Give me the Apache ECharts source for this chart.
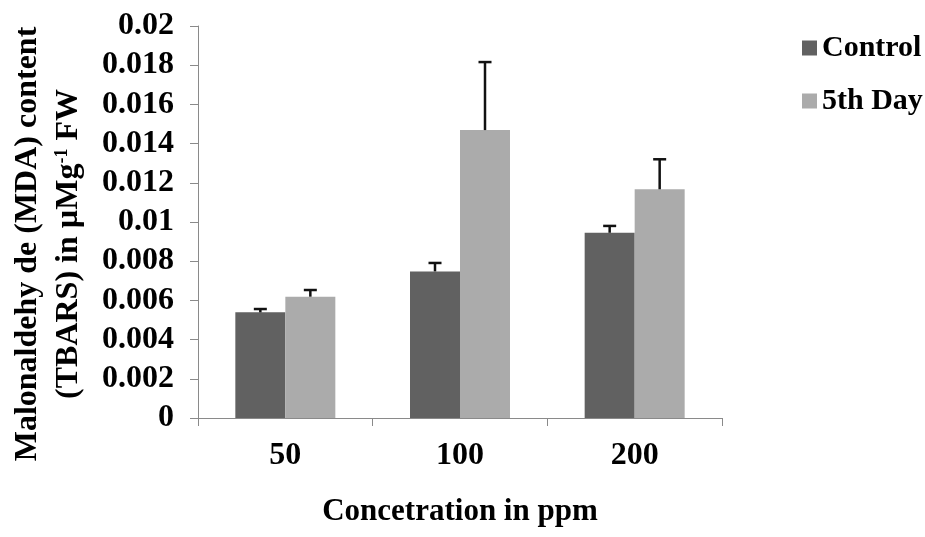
<!DOCTYPE html>
<html>
<head>
<meta charset="utf-8">
<script src="https://cdn.jsdelivr.net/npm/echarts@6/dist/echarts.min.js"></script>
<style>
html,body{margin:0;padding:0;background:#fff;}
#chart{width:925px;height:537px;}
</style>
</head>
<body>
<div id="chart"></div>
<script>
var categories = ['50', '100', '200'];
var seriesNames = ['Control', '5th Day'];
var controlValues = [0.00539, 0.00748, 0.00945];
var controlErrTop = [0.00556, 0.00791, 0.00980];
var day5Values = [0.00619, 0.01469, 0.01167];
var day5ErrTop = [0.00653, 0.01816, 0.01320];
var yTickLabels = ['0', '0.002', '0.004', '0.006', '0.008', '0.01', '0.012', '0.014', '0.016', '0.018', '0.02'];
var yTitleLine1 = 'Malonaldehy de (MDA) content';
var yTitleLine2 = '(TBARS) in \u00b5Mg{sup|-1} FW';
var xTitle = 'Concetration in ppm';

var FONT = "'Liberation Serif', 'Times New Roman', serif";
var BAR_W = 50;
var colors = ['#616161', '#ababab'];

function errData(vals, tops) {
  return vals.map(function (v, i) { return [i, v, tops[i]]; });
}
function errSeries(vals, tops, offset) {
  return {
    type: 'custom',
    z: 5,
    silent: true,
    data: errData(vals, tops),
    renderItem: function (params, api) {
      var p = api.coord([api.value(0), api.value(1)]);
      var t = api.coord([api.value(0), api.value(2)]);
      var x = p[0] + offset;
      var style = { stroke: '#111', lineWidth: 2.5 };
      return {
        type: 'group',
        children: [
          { type: 'line', shape: { x1: x, y1: p[1], x2: x, y2: t[1] }, style: style },
          { type: 'line', shape: { x1: x - 6.5, y1: t[1], x2: x + 6.5, y2: t[1] }, style: style }
        ]
      };
    }
  };
}

var chart = echarts.init(document.getElementById('chart'), null, { renderer: 'canvas' });
chart.setOption({
  animation: false,
  backgroundColor: '#ffffff',
  grid: { left: 198, right: 203, top: 26, bottom: 119, containLabel: false },
  legend: {
    data: seriesNames,
    orient: 'vertical',
    left: 797,
    top: 28,
    itemWidth: 15,
    itemHeight: 15,
    itemGap: 23,
    icon: 'rect',
    textStyle: { fontFamily: FONT, fontWeight: 'bold', fontSize: 30, color: '#000' }
  },
  xAxis: {
    type: 'category',
    data: categories,
    axisLine: { lineStyle: { color: '#8a8a8a', width: 1 } },
    axisTick: { show: true, length: 8, lineStyle: { color: '#8a8a8a' } },
    axisLabel: { margin: 22, fontFamily: FONT, fontWeight: 'bold', fontSize: 32, color: '#000' },
    name: xTitle,
    nameLocation: 'middle',
    nameGap: 78,
    nameTextStyle: { fontFamily: FONT, fontWeight: 'bold', fontSize: 31, color: '#000' }
  },
  yAxis: {
    type: 'value',
    min: 0,
    max: 0.02,
    interval: 0.002,
    axisLine: { show: true, lineStyle: { color: '#8a8a8a', width: 1 } },
    axisTick: { show: true, length: 8, lineStyle: { color: '#8a8a8a' } },
    splitLine: { show: false },
    axisLabel: {
      margin: 24,
      fontFamily: FONT, fontWeight: 'bold', fontSize: 32, color: '#000',
      formatter: function (v, i) { return yTickLabels[i]; }
    }
  },
  graphic: [
    {
      type: 'text',
      x: 28, y: 244,
      rotation: Math.PI / 2,
      style: {
        text: yTitleLine1,
        font: "bold 32px " + FONT,
        fill: '#000',
        align: 'center',
        verticalAlign: 'middle'
      }
    },
    {
      type: 'text',
      x: 69, y: 244,
      rotation: Math.PI / 2,
      style: {
        text: yTitleLine2,
        font: "bold 32px " + FONT,
        fill: '#000',
        align: 'center',
        verticalAlign: 'middle',
        rich: {
          sup: { fontSize: 18, fontWeight: 'bold', fontFamily: FONT, fill: '#000', verticalAlign: 'top', padding: [0, 0, 12, 0] }
        }
      }
    }
  ],
  series: [
    { name: seriesNames[0], type: 'bar', data: controlValues, barWidth: BAR_W, barGap: '0%', itemStyle: { color: colors[0] } },
    { name: seriesNames[1], type: 'bar', data: day5Values, barWidth: BAR_W, barGap: '0%', itemStyle: { color: colors[1] } },
    errSeries(controlValues, controlErrTop, -BAR_W / 2),
    errSeries(day5Values, day5ErrTop, BAR_W / 2)
  ]
});
</script>
</body>
</html>
